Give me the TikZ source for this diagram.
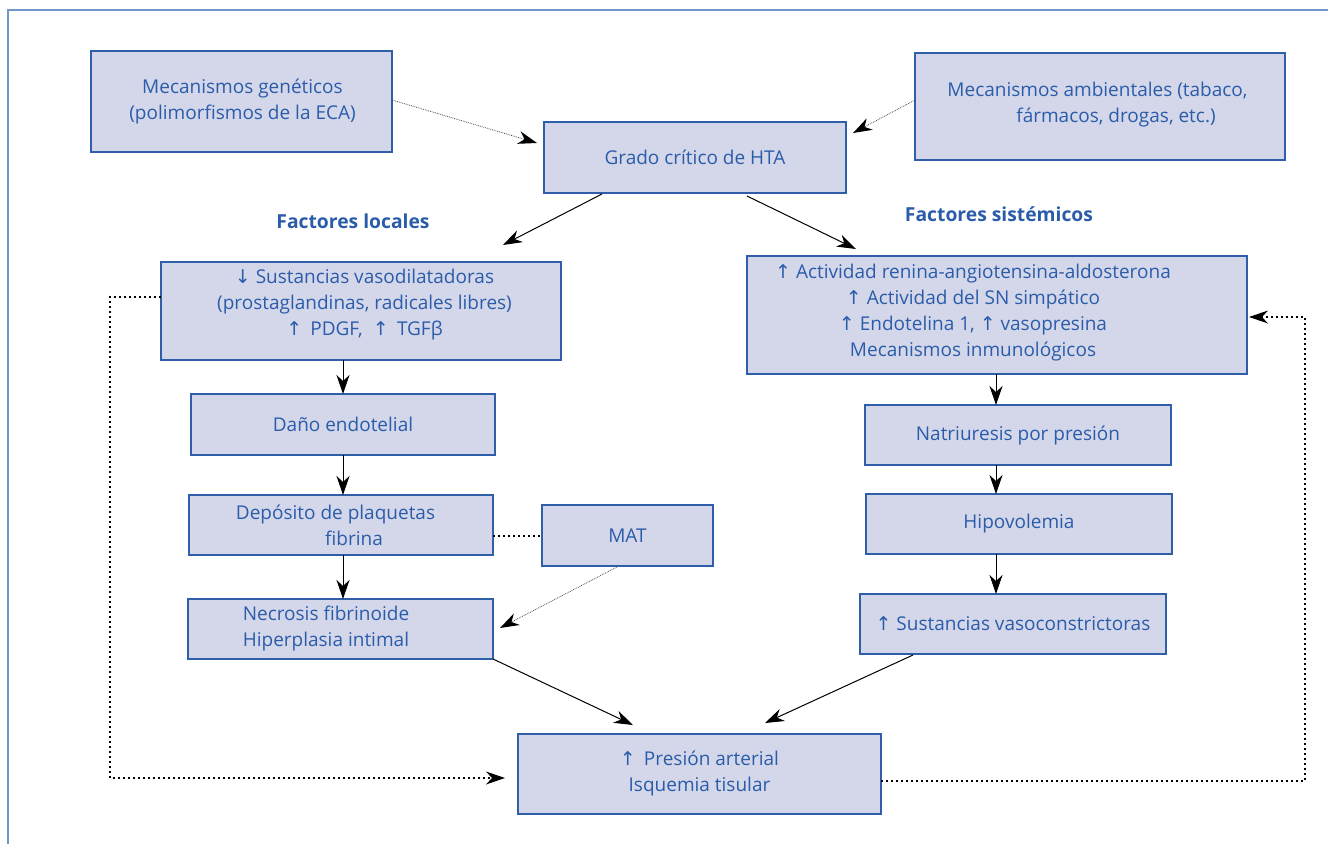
\documentclass[tikz,border=0pt]{standalone}
\usepackage{fontspec}
\setmainfont{Open Sans}
\newfontfamily\arrfont{DejaVu Sans}
\usetikzlibrary{arrows.meta}
\definecolor{boxfill}{HTML}{D4D7EA}
\definecolor{boxdraw}{HTML}{2E5FA8}
\definecolor{txtblue}{HTML}{2A5CAA}
\definecolor{frame}{HTML}{7396C8}
\newcommand{\up}{{\arrfont ↑}}
\newcommand{\dn}{{\arrfont ↓}}
\tikzset{
  box/.style={draw=boxdraw, fill=boxfill, line width=1.1pt, inner sep=0pt, outer sep=0pt,
    align=center, text=txtblue, font=\fontsize{19}{26}\selectfont},
  txt/.style={inner sep=0pt, align=center, text=txtblue, font=\fontsize{19}{26}\selectfont},
  head/.style={inner sep=0pt, text=txtblue, font=\fontsize{19.3}{22}\selectfont\bfseries},
  tip/.style={-{Stealth[length=19pt, width=13pt, inset=6pt]}},
  arr/.style={draw=black, line width=1pt, tip},
  thinarr/.style={draw=black!70, line width=0.8pt, densely dotted, -{Stealth[length=19pt, width=13pt, inset=6pt, fill=black, line width=0pt]}},
  loopline/.style={draw=black, line width=2pt, dash pattern=on 2pt off 3pt},
  looparr/.style={draw=black, line width=2pt, dash pattern=on 2pt off 3pt, -{Stealth[length=19pt, width=13pt, inset=6pt, line width=0pt]}},
}
\begin{document}
\begin{tikzpicture}[x=1pt, y=-1pt]
\useasboundingbox (0,0) rectangle (1328,844);
% frame
\draw[frame, line width=1.5pt] (8,844) -- (8,10) -- (1328,10);

% boxes
\node[box, minimum width=301pt, minimum height=101pt] (gen) at (241.5,101.5) {};
\node[txt] (gent) at (242.5,101) {Mecanismos genéticos\\(polimorfismos de la ECA)};
\node[box, minimum width=370pt, minimum height=107pt] (amb) at (1100,106.5) {};
\node[txt] (ambt) at (1097.5,105) {Mecanismos ambientales (tabaco,\\\hspace*{37pt}fármacos, drogas, etc.)};
\node[box, minimum width=302pt, minimum height=71pt] (grado) at (695,157.5) {Grado crítico de HTA};

\node[head] (loc) at (353,221) {Factores locales};
\node[head] (sis) at (999,214) {Factores sistémicos};

\node[box, minimum width=400pt, minimum height=98pt] (vaso) at (361,311) {};
\node[txt] (vasot) at (364.5,305) {\dn{} Sustancias vasodilatadoras\\(prostaglandinas, radicales libres)\\\up{}\, PDGF,\; \up{}\, TGFβ};

\node[box, minimum width=500pt, minimum height=118pt] (sys) at (997,315) {};
\node[txt] (syst) at (973,313) {\up{} Actividad renina-angiotensina-aldosterona\\\up{} Actividad del SN simpático\\\up{} Endotelina 1, \up{} vasopresina\\Mecanismos inmunológicos};

\node[box, minimum width=304pt, minimum height=61pt] (dano) at (343,424.5) {Daño endotelial};
\node[box, minimum width=304pt, minimum height=60pt] (dep) at (341,525) {};
\node[txt] (dept) at (335.5,525) {Depósito de plaquetas\\\hspace*{37pt}fibrina};
\node[box, minimum width=171pt, minimum height=61pt] (mat) at (627.5,535.5) {MAT};
\node[box, minimum width=305pt, minimum height=60pt] (nec) at (340.5,629) {};
\node[txt, align=left] (nect) at (326,629) {Necrosis fibrinoide\\Hiperplasia intimal};

\node[box, minimum width=306pt, minimum height=60pt] (nat) at (1018,435) {Natriuresis por presión};
\node[box, minimum width=306pt, minimum height=60pt] (hipo) at (1019,524) {Hipovolemia};
\node[box, minimum width=306pt, minimum height=60pt] (vc) at (1013,624) {\up{} Sustancias vasoconstrictoras};

\node[box, minimum width=363pt, minimum height=80pt] (pres) at (699.5,774) {};
\node[txt] (prest) at (699.5,773) {\up{}\, Presión arterial\\Isquemia tisular};

% helper coordinates
\coordinate (lc) at (343,0);
\coordinate (rc) at (996,0);
\coordinate (g1) at (537,143);
\coordinate (a1) at (853,133);
\coordinate (gs1) at (602,194);
\coordinate (gs2) at (747,196);
\coordinate (ge1) at (503,245);
\coordinate (ge2) at (856,249);
\coordinate (ms) at (617,567);
\coordinate (me) at (500,628);
\coordinate (pe1) at (633,725);
\coordinate (vs) at (913,655);
\coordinate (pe2) at (765,723);
\coordinate (ll) at (110,0);
\coordinate (rr) at (1305,0);
\coordinate (pin) at (505,778);
\coordinate (pout) at (881,781);
\coordinate (sin) at (1249,317);

% dotted thin arrows
\draw[thinarr] (gen.east |- 0,100) -- (g1);
\draw[thinarr] (amb.west |- 0,100) -- (a1);
\draw[thinarr] (ms) -- (me);

% solid arrows
\draw[arr] (gs1) -- (ge1);
\draw[arr] (gs2) -- (ge2);
\draw[arr] (vaso.south -| lc) -- (dano.north -| lc);
\draw[arr] (dano.south -| lc) -- (dep.north -| lc);
\draw[arr] (dep.south -| lc) -- (nec.north -| lc);
\draw[arr] (sys.south -| rc) -- (nat.north -| rc);
\draw[arr] (nat.south -| rc) -- (hipo.north -| rc);
\draw[arr] (hipo.south -| rc) -- (vc.north -| rc);
\draw[arr] (nec.south east) -- (pe1);
\draw[arr] (vs) -- (pe2);

% dotted connections
\draw[loopline] (dep.east |- mat.west) -- (mat.west);
\draw[looparr] (vaso.west |- 0,297) -| (ll |- pin) -- (pin);
\draw[looparr] (pout) -| (rr |- sin) -- (sin);
\end{tikzpicture}
\end{document}
